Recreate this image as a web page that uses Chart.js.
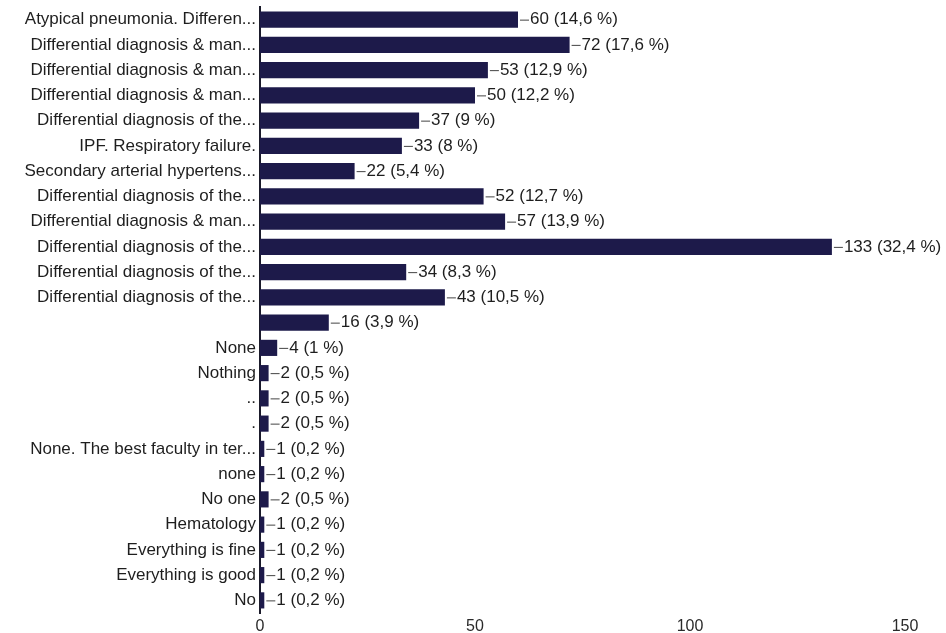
<!DOCTYPE html>
<html>
<head>
<meta charset="utf-8">
<script src="https://cdn.jsdelivr.net/npm/chart.js@4.4.1/dist/chart.umd.min.js"></script>
<style>
  html, body { margin: 0; padding: 0; background: #ffffff; }
  #wrap { width: 946px; height: 633px; position: relative; }
</style>
</head>
<body>
<div id="wrap"><canvas id="c" width="946" height="633"></canvas></div>
<script>
const categories = [
  "Atypical pneumonia. Differen...",
  "Differential diagnosis & man...",
  "Differential diagnosis & man...",
  "Differential diagnosis & man...",
  "Differential diagnosis of the...",
  "IPF. Respiratory failure.",
  "Secondary arterial hypertens...",
  "Differential diagnosis of the...",
  "Differential diagnosis & man...",
  "Differential diagnosis of the...",
  "Differential diagnosis of the...",
  "Differential diagnosis of the...",
  "",
  "None",
  "Nothing",
  "..",
  ".",
  "None. The best faculty in ter...",
  "none",
  "No one",
  "Hematology",
  "Everything is fine",
  "Everything is good",
  "No"
];
const counts = [60, 72, 53, 50, 37, 33, 22, 52, 57, 133, 34, 43, 16, 4, 2, 2, 2, 1, 1, 2, 1, 1, 1, 1];
const percents = ["14,6", "17,6", "12,9", "12,2", "9", "8", "5,4", "12,7", "13,9", "32,4", "8,3", "10,5", "3,9", "1", "0,5", "0,5", "0,5", "0,2", "0,2", "0,5", "0,2", "0,2", "0,2", "0,2"];
const xTicks = [0, 50, 100, 150];

const FONT = '"Liberation Sans", Arial, sans-serif';

const valueLabels = {
  id: 'valueLabels',
  afterDatasetsDraw(chart) {
    const ctx = chart.ctx;
    const meta = chart.getDatasetMeta(0);
    ctx.save();
    ctx.font = '17px ' + FONT;
    ctx.textBaseline = 'middle';
    ctx.textAlign = 'left';
    meta.data.forEach((bar, i) => {
      const x = bar.x;
      const y = bar.y;
      ctx.strokeStyle = '#444444';
      ctx.lineWidth = 1;
      ctx.beginPath();
      ctx.moveTo(x + 2, y + 0.5);
      ctx.lineTo(x + 11, y + 0.5);
      ctx.stroke();
      ctx.fillStyle = '#1e1e1e';
      ctx.fillText(counts[i] + ' (' + percents[i] + ' %)', x + 12, y);
    });
    ctx.restore();
  }
};

new Chart(document.getElementById('c'), {
  type: 'bar',
  data: {
    labels: categories,
    datasets: [{
      data: counts,
      backgroundColor: '#1d1a4a',
      borderWidth: 0,
      categoryPercentage: 1,
      barPercentage: 0.64
    }]
  },
  options: {
    indexAxis: 'y',
    responsive: false,
    animation: false,
    layout: { padding: { top: 7, right: 41, left: 0, bottom: 0 } },
    plugins: {
      legend: { display: false },
      tooltip: { enabled: false }
    },
    scales: {
      x: {
        min: 0,
        max: 150,
        afterBuildTicks(scale) { scale.ticks = xTicks.map(v => ({ value: v })); },
        afterFit(scale) { scale.height = 20; scale.paddingLeft = 0; scale.paddingRight = 0; },
        grid: { display: false, drawTicks: false },
        border: { display: false },
        ticks: {
          padding: 4,
          color: '#2a2a2a',
          font: { family: FONT, size: 16 }
        }
      },
      y: {
        afterFit(scale) { scale.width = 260; scale.paddingTop = 0; scale.paddingBottom = 0; },
        grid: { display: false, drawTicks: false },
        border: { display: true, color: '#1a1a2a', width: 2 },
        ticks: {
          padding: 4,
          autoSkip: false,
          color: '#1e1e1e',
          font: { family: FONT, size: 17 }
        }
      }
    }
  },
  plugins: [valueLabels]
});
</script>
</body>
</html>
